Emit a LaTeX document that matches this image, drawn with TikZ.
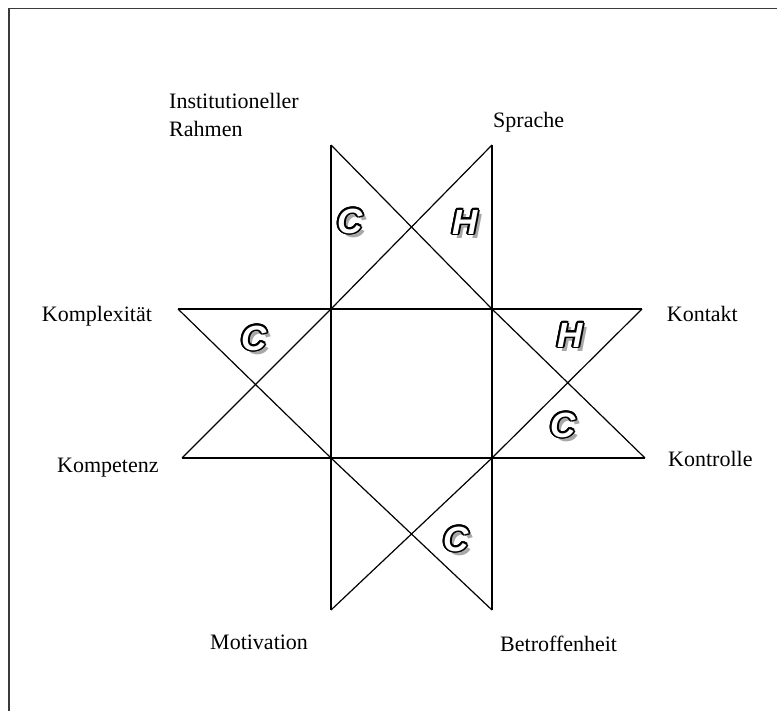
\documentclass[tikz,border=0pt]{standalone}
\usepackage{fontspec}
\setmainfont{Liberation Serif}
\newfontfamily\lettersans{Liberation Sans}
\definecolor{shadowgray}{HTML}{A8A8A8}
\definecolor{framegray}{HTML}{3A3A3A}
\tikzset{
  lbl/.style={inner sep=0pt, anchor=base west, font=\fontsize{22}{26}\selectfont},
  starline/.style={line width=1.2pt, black},
  letterfont/.style={inner sep=0pt, font=\lettersans\bfseries\itshape\fontsize{35}{35}\selectfont},
  pics/outl/.style={code={
    \node[letterfont, text=shadowgray] (-sh) at (4,4) {#1};
    \foreach \a in {0,22.5,...,337.5}
      \node[letterfont, text=black] at (\a:1.7) {#1};
    \node[letterfont, text=white] (-fg) at (0,0) {#1};
  }}
}
\begin{document}
\begin{tikzpicture}[x=1pt, y=-1pt]
\useasboundingbox (0,0) rectangle (777,711);
% frame
\coordinate (fbl) at (9,711);
\coordinate (ftl) at (9,8.5);
\coordinate (ftr) at (777,8.5);
\draw[framegray, line width=1.8pt] (fbl) -- (ftl) -- (ftr);
% star vertices
\coordinate (vtl) at (331,145);
\coordinate (vtr) at (492,145);
\coordinate (vbl) at (331,610);
\coordinate (vbr) at (492,610);
\coordinate (ctl) at (331,309);
\coordinate (ctr) at (492,309);
\coordinate (cbl) at (331,458);
\coordinate (cbr) at (492,458);
\coordinate (hlt) at (178,309);
\coordinate (hrt) at (642,309);
\coordinate (hlb) at (182,458);
\coordinate (hrb) at (645,458);
% verticals and horizontals
\draw[starline] (vtl) -- (vbl);
\draw[starline] (vtr) -- (vbr);
\draw[starline] (hlt) -- (hrt);
\draw[starline] (hlb) -- (hrb);
% diagonals
\draw[starline] (vtl) -- (ctr);
\draw[starline] (vtr) -- (ctl);
\draw[starline] (cbl) -- (vbr);
\draw[starline] (cbr) -- (vbl);
\draw[starline] (hlt) -- (cbl);
\draw[starline] (ctl) -- (hlb);
\draw[starline] (ctr) -- (hrb);
\draw[starline] (hrt) -- (cbr);
% outlined letters
\pic (l1) at (350,221) {outl=C};
\pic (l2) at (465,222) {outl=H};
\pic (l3) at (254,338) {outl=C};
\pic (l4) at (570,335) {outl=H};
\pic (l5) at (563,425) {outl=C};
\pic (l6) at (456,539) {outl=C};
% labels
\node[lbl] (inst1) at (169,108.3) {Institutioneller};
\node[lbl] (inst2) at (169,136.7) {Rahmen};
\node[lbl] (spr) at (493,127.3) {Sprache};
\node[lbl] (kplx) at (41.7,321.7) {Komplexität};
\node[lbl] (kont) at (666.7,321.7) {Kontakt};
\node[lbl] (kpt) at (57,472) {Kompetenz};
\node[lbl] (kntr) at (668,467) {Kontrolle};
\node[lbl] (mot) at (210,649) {Motivation};
\node[lbl] (betr) at (500,651) {Betroffenheit};
\end{tikzpicture}
\end{document}
